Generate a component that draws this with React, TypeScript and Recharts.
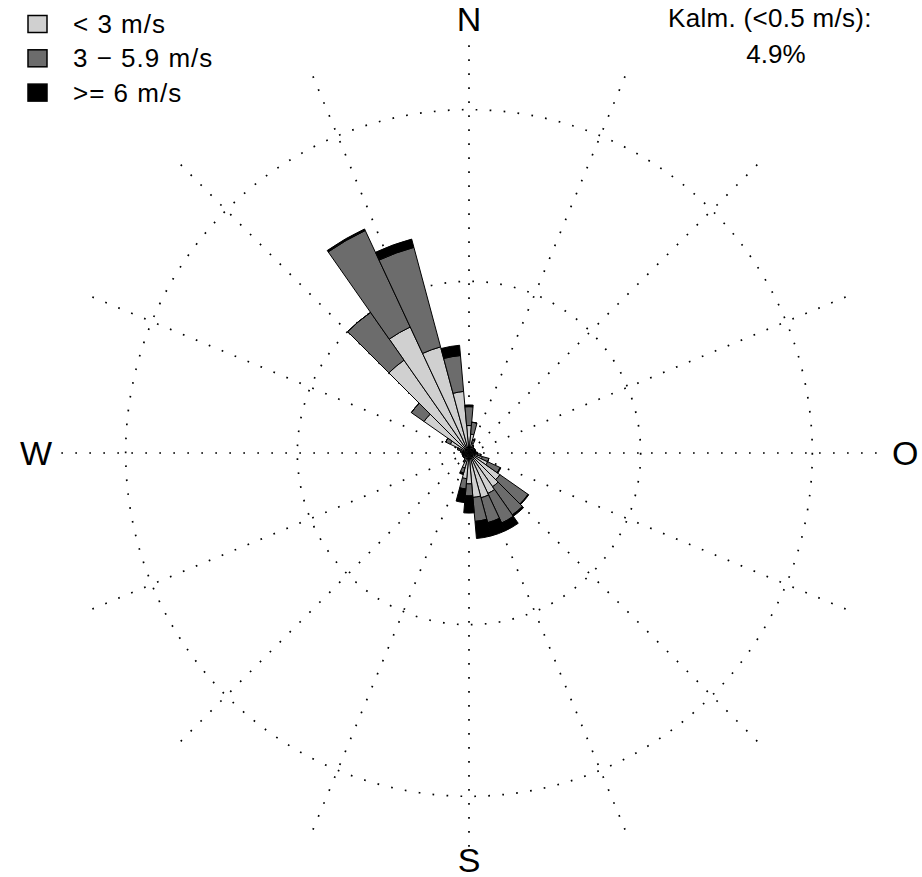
import React from 'react';
import { RadialBarChart, RadialBar, PolarAngleAxis, PolarRadiusAxis, PolarGrid } from 'recharts';

// Wind directions (compass degrees, sector centres)
const directions = [0, 10, 20, 30, 40, 50, 60, 70, 80, 90, 100, 110, 120, 130, 140, 150, 160, 170,
  180, 190, 200, 210, 220, 230, 240, 250, 260, 270, 280, 290, 300, 310, 320, 330, 340, 350];

// Frequencies (%) per speed class
const lowSpeed = [1.6, 1.1, 0.6, 0.4, 0.3, 0.3, 0.3, 0.3, 0.3, 0.4, 0.5, 0.8, 1.2, 2.2, 2.4, 2.6, 2.7, 2.6,
  1.8, 1.5, 0.9, 0.5, 0.3, 0.3, 0.3, 0.3, 0.3, 0.3, 0.4, 0.6, 1.2, 3.2, 6.6, 8.1, 6.4, 3.6];
const midSpeed = [1.1, 0.7, 0.2, 0.1, 0.1, 0.1, 0.1, 0.1, 0.1, 0.1, 0.2, 0.4, 0.8, 2.0, 2.0, 1.9, 1.5, 1.4,
  0.7, 0.6, 0.3, 0.1, 0.1, 0.1, 0.1, 0.1, 0.1, 0.1, 0.1, 0.1, 0.3, 0.9, 3.4, 6.2, 6.0, 2.1];
const highSpeed = [0.1, 0, 0, 0, 0, 0, 0, 0, 0, 0, 0, 0, 0.05, 0.05, 0.1, 0.5, 0.8, 1.0,
  1.0, 0.8, 0.1, 0, 0, 0, 0, 0, 0, 0, 0, 0, 0, 0, 0, 0.1, 0.5, 0.6];

const compassLabels: Record<number, string> = { 0: 'N', 90: 'O', 180: 'S', 270: 'W' };
const gridDirections = [0, 22.5, 45, 67.5, 90, 112.5, 135, 157.5, 180, 202.5, 225, 247.5, 270, 292.5, 315, 337.5];
const ringTicks = [10, 20];
const radiusMax = 24;
const sectorWidth = 10;

const legendLabels = ['< 3 m/s', '3 \u2212 5.9 m/s', '>= 6 m/s'];
const legendColors = ['#d0d0d0', '#6c6c6c', '#000000'];
const calmTitle = 'Kalm. (<0.5 m/s):';
const calmValue = '4.9%';

const data = directions.map((d, i) => ({ dir: d, low: lowSpeed[i], mid: midSpeed[i], high: highSpeed[i] }));

const FONT = '"Liberation Sans", Arial, Helvetica, sans-serif';
const CX = 469;
const CY = 453;

const CompassTick = (props: any) => {
  const { x, y, payload } = props;
  const label = compassLabels[payload?.value];
  if (!label) return null;
  const cx = typeof props.cx === 'number' ? props.cx : CX;
  const cy = typeof props.cy === 'number' ? props.cy : CY;
  // tick sits at the sector edge; rotate back to the sector centre
  const r = Math.hypot(x - cx, y - cy);
  const theta = Math.atan2(cy - y, x - cx) + ((sectorWidth / 2) * Math.PI) / 180;
  const px = cx + r * Math.cos(theta);
  const py = cy - r * Math.sin(theta);
  let anchor: 'middle' | 'start' | 'end' = 'middle';
  let dx = 0;
  let dy = 0;
  if (label === 'N') { dy = -2; }
  else if (label === 'S') { dy = -1; }
  else if (label === 'W') { anchor = 'end'; dx = 3; dy = 12; }
  else if (label === 'O') { anchor = 'start'; dx = 3; dy = 12; }
  return (
    <text x={px + dx} y={py + dy} textAnchor={anchor} fontSize={34} fontFamily={FONT} fill="#000">
      {label}
    </text>
  );
};

export default function App() {
  return (
    <div style={{ position: 'absolute', left: 0, top: 0, width: 922, height: 877, background: '#fff' }}>
      <RadialBarChart
        width={922}
        height={877}
        cx={CX}
        cy={CY}
        innerRadius={0}
        outerRadius={412}
        startAngle={85}
        endAngle={-275}
        layout="centric"
        data={data}
        barCategoryGap={0}
        barGap={0}
        margin={{ top: 0, right: 0, bottom: 0, left: 0 }}
      >
        <PolarGrid
          gridType="circle"
          polarAngles={gridDirections.map((a) => 90 - a)}
          stroke="#000"
          strokeWidth={1.7}
          strokeDasharray="1.7 12.3"
        />
        <PolarAngleAxis
          dataKey="dir"
          type="category"
          axisLine={false}
          tickLine={false}
          tick={<CompassTick />}
        />
        <PolarRadiusAxis type="number" domain={[0, radiusMax]} ticks={ringTicks} tick={false} axisLine={false} />
        <RadialBar dataKey="low" stackId="a" fill={legendColors[0]} stroke="#000" strokeWidth={1} isAnimationActive={false} />
        <RadialBar dataKey="mid" stackId="a" fill={legendColors[1]} stroke="#000" strokeWidth={1} isAnimationActive={false} />
        <RadialBar dataKey="high" stackId="a" fill={legendColors[2]} stroke="#000" strokeWidth={1} isAnimationActive={false} />
      </RadialBarChart>
      <svg width={922} height={877} style={{ position: 'absolute', left: 0, top: 0, pointerEvents: 'none' }}>
        {legendLabels.map((lbl, i) => (
          <g key={lbl}>
            <rect x={28} y={15.5 + i * 34.3} width={19} height={17} fill={legendColors[i]} stroke="#000" strokeWidth={1.5} />
            <text x={73} y={33 + i * 34.3} fontSize={26} letterSpacing={1} fontFamily={FONT} fill="#000">{lbl}</text>
          </g>
        ))}
        <text x={668} y={27} fontSize={26} letterSpacing={0.3} fontFamily={FONT} fill="#000">{calmTitle}</text>
        <text x={776} y={63} fontSize={26} fontFamily={FONT} fill="#000" textAnchor="middle">{calmValue}</text>
      </svg>
    </div>
  );
}
